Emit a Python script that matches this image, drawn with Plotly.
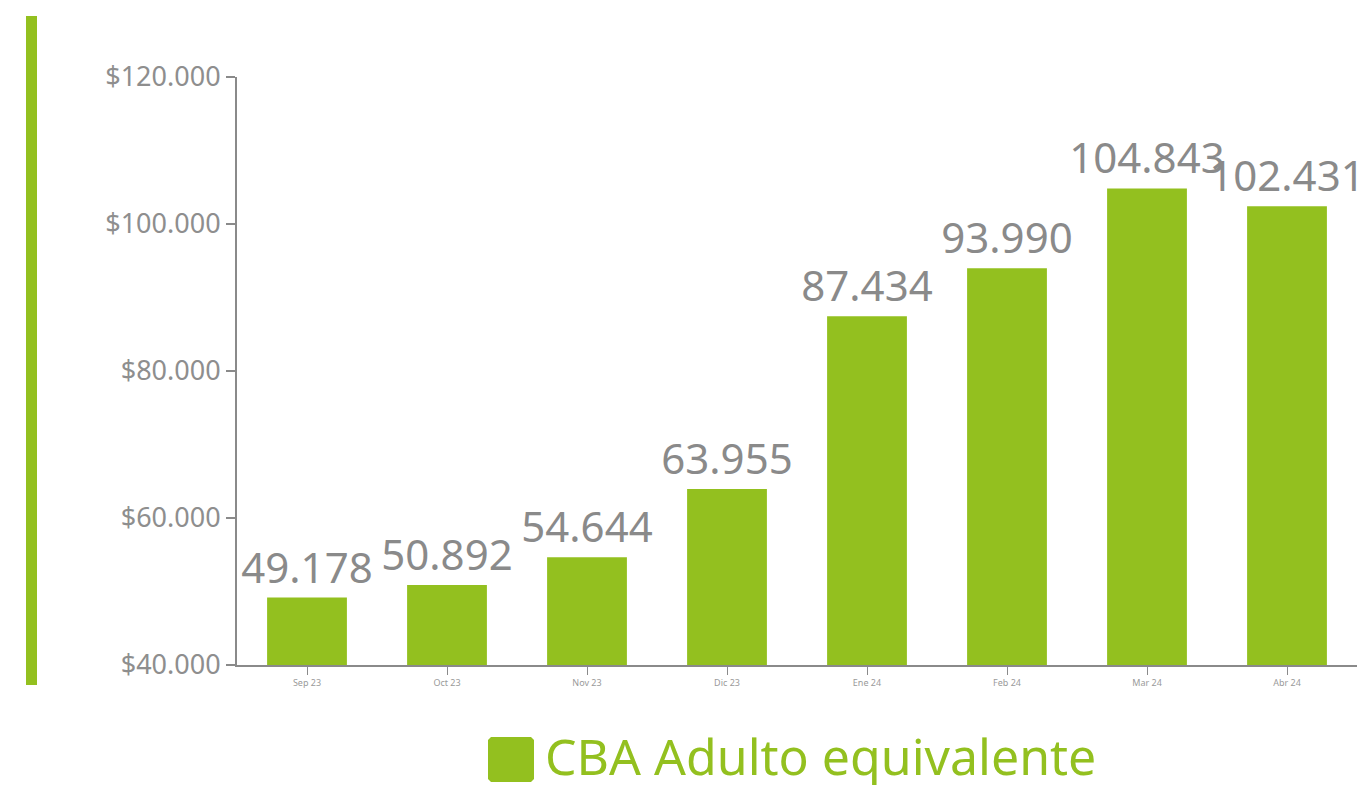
import plotly.graph_objects as go

categories = ["Sep 23", "Oct 23", "Nov 23", "Dic 23", "Ene 24", "Feb 24", "Mar 24", "Abr 24"]
values = [49178, 50892, 54644, 63955, 87434, 93990, 104843, 102431]
series_name = "CBA Adulto equivalente"
tick_vals = [40000, 60000, 80000, 100000, 120000]
tick_text = ["$" + f"{v:,}".replace(",", ".") for v in tick_vals]

GREEN = "#93c01f"
GRAY = "#8a8a8a"
FONT = "Noto Sans"

W, H = 1362, 785
L, R, T, B = 237, 5, 77, 120
pw, ph = W - L - R, H - T - B

def px(x):
    return (x - L) / pw

def py(y):
    return (H - B - y) / ph

fig = go.Figure()
fig.add_trace(go.Bar(
    x=categories, y=values, name=series_name,
    marker=dict(color=GREEN, line=dict(width=0)),
    texttemplate="%{y:,.0f}", textposition="outside",
    textfont=dict(family=FONT, size=42, color=GRAY),
    constraintext="none", cliponaxis=False,
    hoverinfo="skip", showlegend=False,
))

fig.update_layout(
    width=W, height=H,
    margin=dict(l=L, r=R, t=T, b=B),
    paper_bgcolor="white", plot_bgcolor="white",
    separators=",.",
    bargap=0.43,
    font=dict(family=FONT, color=GRAY),
    xaxis=dict(
        showline=True, linecolor=GRAY, linewidth=2,
        ticks="outside", ticklen=8, tickcolor=GRAY, tickwidth=1,
        tickfont=dict(size=9, color="#9a9a9a"),
        showgrid=False,
    ),
    yaxis=dict(
        range=[40000, 120000], tickvals=tick_vals, ticktext=tick_text,
        showline=True, linecolor=GRAY, linewidth=2,
        ticks="outside", ticklen=9, tickcolor=GRAY, tickwidth=2,
        tickfont=dict(size=27, color="#8e8e8e"),
        showgrid=False, zeroline=False,
    ),
    shapes=[
        dict(type="rect", xref="paper", yref="paper",
             x0=px(26), x1=px(37), y0=py(685), y1=py(16),
             fillcolor=GREEN, line=dict(width=0), layer="above"),
        dict(type="path", xref="paper", yref="paper",
             path=f"M {px(491)},{py(737)} L {px(531)},{py(737)} L {px(534)},{py(740)} L {px(534)},{py(779)} L {px(531)},{py(782)} L {px(491)},{py(782)} L {px(488)},{py(779)} L {px(488)},{py(740)} Z",
             fillcolor=GREEN, line=dict(width=0)),
    ],
    annotations=[
        dict(text=series_name, xref="paper", yref="paper",
             x=px(543), y=py(756), xanchor="left", yanchor="middle",
             showarrow=False, font=dict(family=FONT, size=50, color=GREEN)),
    ],
)

fig.write_html(
    "out.html",
    config={"displayModeBar": False},
    post_script="document.body.style.margin='0';document.body.style.overflow='hidden';",
)
